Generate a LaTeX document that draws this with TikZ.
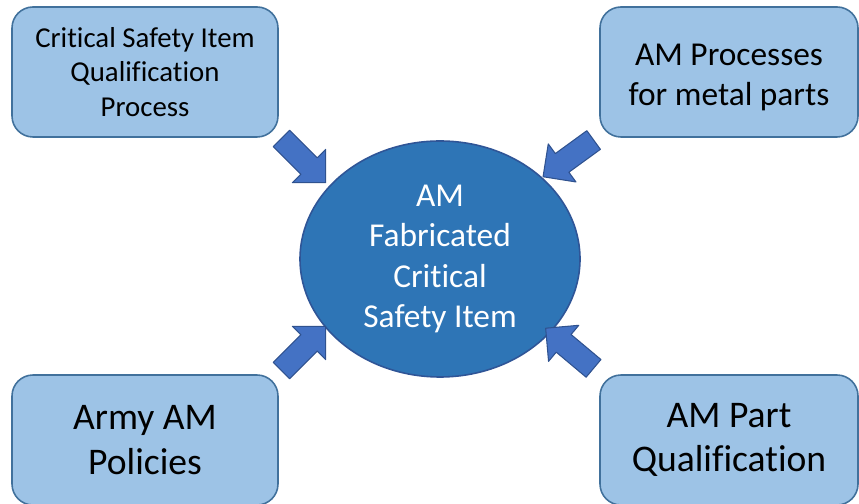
\documentclass[tikz,border=0pt]{standalone}
\usepackage{fontspec}
\setmainfont[Ligatures=NoCommon]{Carlito}
\usetikzlibrary{shapes.geometric,shapes.arrows}
\definecolor{boxfill}{HTML}{9DC3E6}
\definecolor{boxline}{HTML}{41719C}
\definecolor{itemfill}{HTML}{2E75B6}
\definecolor{itemline}{HTML}{2F5597}
\definecolor{arrowfill}{HTML}{4472C4}
\definecolor{arrowline}{HTML}{2F528F}
\tikzset{
	box/.style={draw=boxline, fill=boxfill, line width=0.9pt, rounded corners=0.42cm,
		minimum height=2.6cm, align=center, inner sep=0pt},
	item/.style={ellipse, draw=itemline, fill=itemfill, line width=0.9pt, text=white,
		minimum width=5.6cm, minimum height=4.72cm, align=center, inner sep=0pt,
		font=\fontsize{19}{23}\selectfont},
	feed/.style={single arrow, draw=arrowline, fill=arrowfill, line width=0.6pt,
		minimum height=1.25cm, minimum width=0.92cm, inner xsep=0pt, inner ysep=0.22cm,
		single arrow head extend=0.24cm, single arrow tip angle=90}
}
\begin{document}
\begin{tikzpicture}[line join=round, font=\fontsize{16.4}{19.8}\selectfont]
	\useasboundingbox (0,0) rectangle (17.18,10.08);
	% centre item
	\node[item] (csi) at (8.8,4.9) {AM\\Fabricated\\Critical\\Safety Item};
	% the four inputs
	\node[box, minimum width=5.32cm] (qual) at (2.9,8.64) {Critical Safety Item\\Qualification\\Process};
	\node[box, minimum width=5.16cm, font=\fontsize{19}{22.7}\selectfont] (proc) at (14.58,8.64) {\rule{0pt}{18pt}AM Processes\\for metal parts};
	\node[box, minimum width=5.32cm, font=\fontsize{21.4}{25.5}\selectfont] (army) at (2.9,1.28) {Army AM\\Policies};
	\node[box, minimum width=5.16cm, font=\fontsize{21.4}{25.5}\selectfont] (part) at (14.58,1.28) {AM Part\\Qualification};
	% block arrows pointing at the item
	\node[feed, rotate=-45] (aqual) at (5.99,6.95) {};
	\node[feed, rotate=216] (aproc) at (11.46,6.98) {};
	\node[feed, rotate=45] (aarmy) at (5.99,3.03) {};
	\node[feed, rotate=140] (apart) at (11.48,3.04) {};
\end{tikzpicture}
\end{document}
